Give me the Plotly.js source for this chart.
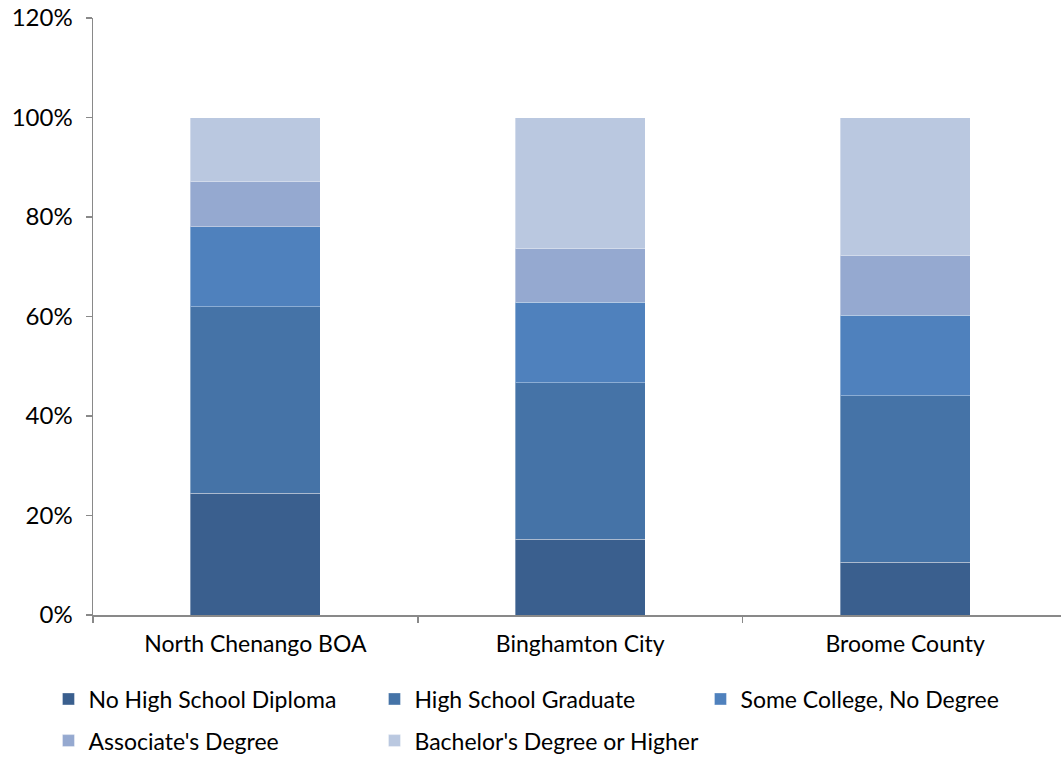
<!DOCTYPE html>
<html>
<head>
<meta charset="utf-8">
<script src="https://cdn.plot.ly/plotly-3.0.1.min.js"></script>
<style>html,body{margin:0;padding:0;background:#fff;}#chart{width:1061px;height:763px;}</style>
</head>
<body>
<div id="chart"></div>
<script>
const categories = ["North Chenango BOA", "Binghamton City", "Broome County"];
const seriesNames = ["No High School Diploma", "High School Graduate", "Some College, No Degree", "Associate's Degree", "Bachelor's Degree or Higher"];
const noHighSchool = [0.245, 0.152, 0.106];
const highSchoolGrad = [0.375, 0.315, 0.335];
const someCollege = [0.160, 0.162, 0.162];
const associates = [0.091, 0.107, 0.119];
const bachelors = [0.129, 0.264, 0.278];
const seriesValues = [noHighSchool, highSchoolGrad, someCollege, associates, bachelors];
const colors = ["#3A5F8E", "#4573A7", "#4F81BD", "#95A9D0", "#BAC8E0"];

const font = "Lato, 'Open Sans', sans-serif";
const traces = seriesValues.map((vals, i) => ({
  type: "bar",
  name: seriesNames[i],
  x: categories,
  y: vals,
  width: 0.4,
  marker: {color: colors[i], line: {color: "rgba(255,255,255,0.35)", width: 1}},
  legend: i < 3 ? "legend" : "legend2",
  hoverinfo: "none"
}));

const legendCommon = {
  orientation: "h",
  xanchor: "left",
  yanchor: "middle",
  x: -0.046,
  font: {family: font, size: 23, color: "#000"},
  entrywidth: 281,
  entrywidthmode: "pixels",
  bgcolor: "rgba(0,0,0,0)",
  borderwidth: 0,
  traceorder: "normal"
};

const layout = {
  width: 1061,
  height: 763,
  margin: {l: 93, r: 0, t: 18, b: 148},
  paper_bgcolor: "#fff",
  plot_bgcolor: "#fff",
  barmode: "stack",
  showlegend: true,
  font: {family: font, color: "#000"},
  xaxis: {
    type: "category",
    range: [-0.5, 2.48],
    showline: true,
    linecolor: "#898989",
    linewidth: 1.5,
    ticks: "outside",
    tickson: "boundaries",
    ticklen: 6,
    tickcolor: "#898989",
    tickwidth: 1.5,
    tickfont: {family: font, size: 23, color: "#000"},
    ticklabelstandoff: 8,
    showgrid: false,
    zeroline: false,
    fixedrange: true
  },
  yaxis: {
    range: [0, 1.2],
    dtick: 0.2,
    tick0: 0,
    tickformat: ".0%",
    showline: true,
    linecolor: "#898989",
    linewidth: 1.5,
    ticks: "outside",
    ticklen: 6,
    tickcolor: "#898989",
    tickwidth: 1.5,
    tickfont: {family: font, size: 24, color: "#000"},
    ticklabelstandoff: 8,
    showgrid: false,
    zeroline: false,
    fixedrange: true
  },
  legend: Object.assign({}, legendCommon, {y: -0.1407}),
  legend2: Object.assign({}, legendCommon, {y: -0.2105})
};

Plotly.newPlot("chart", traces, layout, {displayModeBar: false, staticPlot: true});
</script>
</body>
</html>
